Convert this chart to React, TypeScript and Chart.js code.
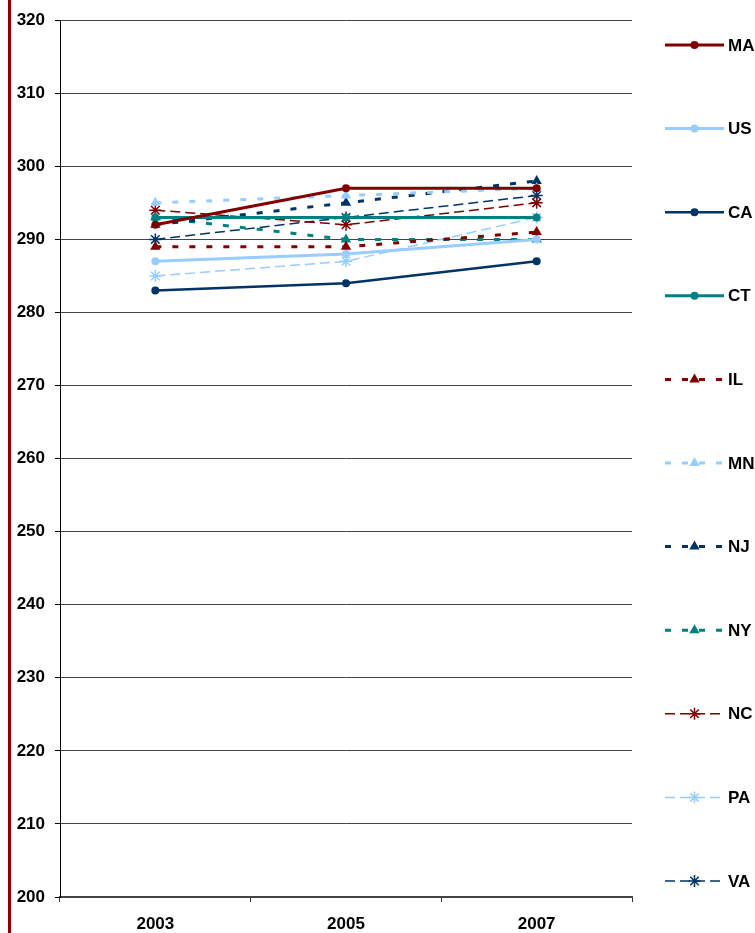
import React, { useEffect, useRef } from "react";
import { Chart, registerables } from "chart.js";

Chart.register(...registerables);

const years = ["2003", "2005", "2007"];
const seriesNames = ["MA", "US", "CA", "CT", "IL", "MN", "NJ", "NY", "NC", "PA", "VA"];
const MA = [292, 297, 297];
const US = [287, 288, 290];
const CA = [283, 284, 287];
const CT = [293, 293, 293];
const IL = [289, 289, 291];
const MN = [295, 296, 297];
const NJ = [292, 295, 298];
const NY = [293, 290, 290];
const NC = [294, 292, 295];
const PA = [285, 287, 293];
const VA = [290, 293, 296];
const yMin = 200;
const yMax = 320;
const yStep = 10;

const RED = "#800000";
const LBLUE = "#99CCFF";
const NAVY = "#003366";
const TEAL = "#008080";

const FONT = "'Liberation Sans', Arial, Helvetica, sans-serif";

type Style = { color: string; width: number; dash: number[]; point: string; radius: number };

const styles: Style[] = [
  { color: RED, width: 3, dash: [], point: "circle", radius: 4 },
  { color: LBLUE, width: 3, dash: [], point: "circle", radius: 4 },
  { color: NAVY, width: 2.5, dash: [], point: "circle", radius: 4 },
  { color: TEAL, width: 3, dash: [], point: "circle", radius: 4 },
  { color: RED, width: 3, dash: [6, 11], point: "triangle", radius: 6 },
  { color: LBLUE, width: 3, dash: [6, 11], point: "triangle", radius: 6 },
  { color: NAVY, width: 3, dash: [6, 11], point: "triangle", radius: 6 },
  { color: TEAL, width: 3, dash: [6, 11], point: "triangle", radius: 6 },
  { color: RED, width: 1.5, dash: [10, 5], point: "star", radius: 6 },
  { color: LBLUE, width: 1.5, dash: [10, 5], point: "star", radius: 6 },
  { color: NAVY, width: 1.5, dash: [10, 5], point: "star", radius: 6 },
];

const values = [MA, US, CA, CT, IL, MN, NJ, NY, NC, PA, VA];

function drawMarker(ctx: CanvasRenderingContext2D, kind: string, x: number, y: number, r: number, color: string) {
  ctx.save();
  ctx.setLineDash([]);
  ctx.fillStyle = color;
  ctx.strokeStyle = color;
  ctx.beginPath();
  if (kind === "circle") {
    ctx.arc(x, y, r, 0, Math.PI * 2);
    ctx.fill();
  } else if (kind === "triangle") {
    let rad = 0;
    const step = (Math.PI * 2) / 3;
    ctx.moveTo(x + Math.sin(rad) * r, y - Math.cos(rad) * r);
    rad += step;
    ctx.lineTo(x + Math.sin(rad) * r, y - Math.cos(rad) * r);
    rad += step;
    ctx.lineTo(x + Math.sin(rad) * r, y - Math.cos(rad) * r);
    ctx.closePath();
    ctx.fill();
  } else {
    ctx.lineWidth = 1.5;
    for (let i = 0; i < 4; i++) {
      const a = (i * Math.PI) / 4;
      ctx.moveTo(x + Math.cos(a) * r, y + Math.sin(a) * r);
      ctx.lineTo(x - Math.cos(a) * r, y - Math.sin(a) * r);
    }
    ctx.stroke();
  }
  ctx.restore();
}

const legendPlugin = {
  id: "sideLegend",
  afterDraw(chart: any) {
    const ctx: CanvasRenderingContext2D = chart.ctx;
    const x0 = 665;
    const x1 = 724;
    const top = 45;
    const gap = 83.6;
    chart.data.datasets.forEach((ds: any, i: number) => {
      const s = styles[i];
      const y = top + i * gap;
      ctx.save();
      ctx.strokeStyle = s.color;
      ctx.lineWidth = s.width;
      ctx.setLineDash(s.dash);
      ctx.beginPath();
      ctx.moveTo(x0, y);
      ctx.lineTo(x1, y);
      ctx.stroke();
      ctx.restore();
      drawMarker(ctx, s.point, (x0 + x1) / 2, y, s.point === "star" ? 6 : s.point === "triangle" ? 6 : 4, s.color);
      ctx.save();
      ctx.fillStyle = "#000";
      ctx.font = `bold 17px ${FONT}`;
      ctx.textBaseline = "middle";
      ctx.textAlign = "left";
      ctx.fillText(ds.label, 728, y + 1);
      ctx.restore();
    });
  },
};

export default function App() {
  const ref = useRef<HTMLCanvasElement | null>(null);
  useEffect(() => {
    if (!ref.current) return;
    const chart = new Chart(ref.current, {
      type: "line",
      data: {
        labels: years,
        datasets: seriesNames.map((name, i) => ({
          label: name,
          data: values[i],
          borderColor: styles[i].color,
          backgroundColor: styles[i].color,
          borderWidth: styles[i].width,
          borderDash: styles[i].dash,
          pointStyle: styles[i].point as any,
          pointRadius: styles[i].radius,
          pointBorderWidth: styles[i].point === "star" ? 1.5 : 0,
          pointBorderColor: styles[i].color,
          pointBackgroundColor: styles[i].color,
          tension: 0,
          fill: false,
        })),
      },
      options: {
        animation: false,
        responsive: false,
        maintainAspectRatio: false,
        layout: { padding: { top: 18, right: 123, bottom: 0, left: 0 } },
        plugins: {
          legend: { display: false },
          tooltip: { enabled: false },
        },
        scales: {
          x: {
            type: "category",
            offset: true,
            grid: {
              offset: true,
              drawOnChartArea: false,
              drawTicks: true,
              tickLength: 5,
              tickColor: "#333",
            },
            border: { color: "#444", width: 2 },
            ticks: {
              color: "#000",
              font: { family: FONT, size: 17, weight: "bold" },
              padding: 12,
              maxRotation: 0,
            },
            afterFit: (scale: any) => {
              scale.height = 36;
            },
          },
          y: {
            min: yMin,
            max: yMax,
            grid: {
              color: "#444",
              lineWidth: 1,
              tickLength: 5,
              tickColor: "#000",
            },
            border: { color: "#000", width: 1 },
            ticks: {
              stepSize: yStep,
              color: "#000",
              font: { family: FONT, size: 17, weight: "bold" },
              padding: 10,
            },
            afterFit: (scale: any) => {
              scale.width = 60;
            },
          },
        },
      },
      plugins: [legendPlugin],
    });
    return () => chart.destroy();
  }, []);
  return (
    <div style={{ position: "absolute", left: 0, top: 0, width: 755, height: 933, background: "#fff" }}>
      <div style={{ position: "absolute", left: 8, top: 0, width: 3, height: 933, background: "#8B0000" }} />
      <canvas ref={ref} width={755} height={933} style={{ position: "absolute", left: 0, top: 0, width: 755, height: 933 }} />
    </div>
  );
}
